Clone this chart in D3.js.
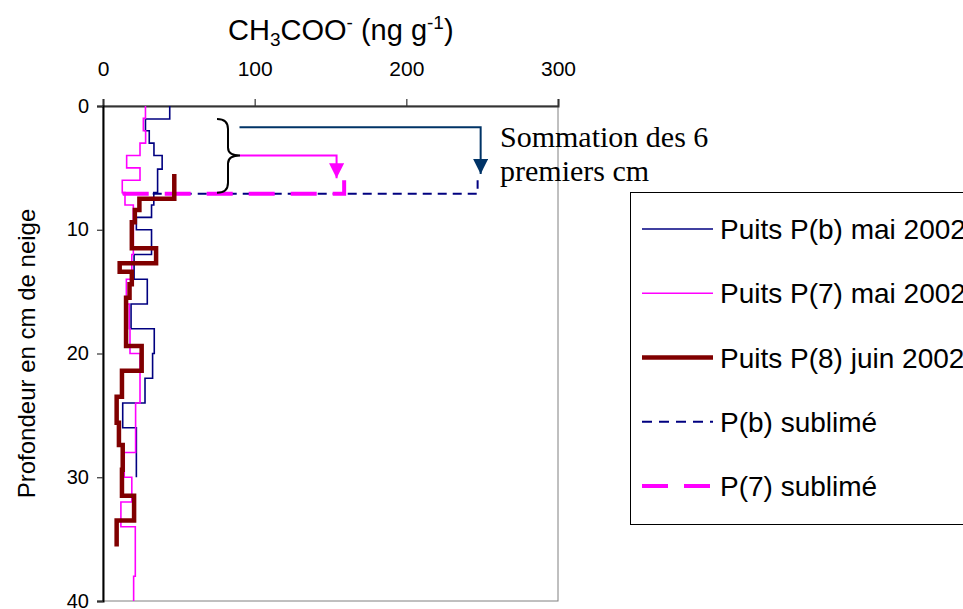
<!DOCTYPE html>
<html><head><meta charset="utf-8">
<script src="https://cdn.jsdelivr.net/npm/d3@7"></script>
<style>body{margin:0;background:#fff}svg{display:block}</style>
</head><body>
<svg id="c" width="963" height="609" font-family="Liberation Sans, Arial, sans-serif"></svg>
<script>
// ---- data ----
const xTicks = [0, 100, 200, 300];
const yTicks = [0, 10, 20, 30, 40];

// P(b) mai 2002 : depth boundaries (cm) and concentration per layer (ng/g)
const pbDepth = [0, 1.05, 2, 3, 4, 5.1, 7, 8, 9, 10, 12, 14, 16, 18, 20, 22, 24, 26, 30];
const pbValue = [44, 28, 30.5, 33.6, 39, 36, 33.5, 32, 22, 32, 20.5, 29.2, 18.5, 33.8, 32.7, 27.7, 13, 22];

// P(7) mai 2002
const p7Depth = [0, 1, 2, 3, 4, 5, 6, 7, 8, 12, 14, 16, 18, 20, 24, 28, 30, 32, 34, 38, 40];
const p7Value = [28, 26.6, 28.1, 24.4, 15.6, 24.4, 12.7, 14.5, 20, 19, 15.4, 17.3, 17.8, 24.4, 21.5, 14, 19, 11.8, 21.3, 20.2];

// P(8) juin 2002
const p8Depth = [5.5, 7.5, 8.4, 9.4, 11.5, 12.7, 13.4, 14.4, 15.5, 19.4, 21.4, 23.5, 25.6, 27.4, 29.4, 31.5, 33.5, 35.6];
const p8Value = [47, 24, 21, 19, 35, 11, 19, 17.5, 15.2, 25.5, 12.5, 9, 10.5, 13, 12.5, 20.5, 9];

// sublimed (sum of first 6 cm)
const pbSubX = [13, 247, 247];
const pbSubY = [7.1, 7.1, 6.0];
const p7SubX = [13, 159, 159];
const p7SubY = [7.1, 7.1, 6.0];

// annotation arrows (value, depth)
const arrowB = {x: [90, 249, 249], y: [1.72, 1.72, 5.5]};
const arrow7 = {x: [90, 154, 154], y: [4.0, 4.0, 5.84]};

const legendLabels = ["Puits P(b) mai 2002", "Puits P(7) mai 2002", "Puits P(8) juin 2002", "P(b) sublimé", "P(7) sublimé"];

// ---- chart ----
const SANS = "Liberation Sans, Arial, sans-serif";
const svg = d3.select("#c");
const x = d3.scaleLinear().domain([0, 300]).range([103, 558]);
const y = d3.scaleLinear().domain([0, 40]).range([106, 601]);

// plot frame
svg.append("rect").attr("x", x(0)).attr("y", y(0)).attr("width", x(300) - x(0)).attr("height", y(40) - y(0))
  .attr("fill", "none").attr("stroke", "#808080").attr("stroke-width", 1);

// axes
const xa = svg.append("g").attr("transform", `translate(0,${y(0)})`)
  .call(d3.axisTop(x).tickValues(xTicks).tickSize(7).tickFormat(d3.format("d")));
xa.select(".domain").attr("stroke", "#333").attr("stroke-width", 2);
xa.selectAll(".tick line").attr("stroke", "#333").attr("stroke-width", 1.2);
xa.selectAll(".tick text").style("font-size", "21px").style("font-family", SANS).attr("fill", "#000")
  .attr("y", -37).attr("dy", "0.35em");

const ya = svg.append("g").attr("transform", `translate(${x(0)},0)`)
  .call(d3.axisLeft(y).tickValues(yTicks).tickSize(6).tickFormat(d3.format("d")));
ya.select(".domain").attr("stroke", "#000").attr("stroke-width", 2);
ya.selectAll(".tick line").attr("stroke", "#333").attr("stroke-width", 1.2);
ya.selectAll(".tick text").style("font-size", "20px").style("font-family", SANS).attr("fill", "#000")
  .attr("x", -14).attr("dy", "0.3em");

// step profiles
function stepPoints(depth, value) {
  const pts = value.map((v, i) => [v, depth[i]]);
  pts.push([value[value.length - 1], depth[depth.length - 1]]);
  return pts;
}
const stepLine = d3.line().x(d => x(d[0])).y(d => y(d[1])).curve(d3.curveStepBefore);
const polyLine = d3.line().x(d => x(d[0])).y(d => y(d[1]));

// sublimed dashed lines
svg.append("path").datum(pbSubX.map((v, i) => [v, pbSubY[i]])).attr("d", polyLine)
  .attr("fill", "none").attr("stroke", "#000080").attr("stroke-width", 2).attr("stroke-dasharray", "9,6");
svg.append("path").datum(p7SubX.map((v, i) => [v, p7SubY[i]])).attr("d", polyLine)
  .attr("fill", "none").attr("stroke", "#FF00FF").attr("stroke-width", 4).attr("stroke-dasharray", "26,16");

svg.append("path").datum(stepPoints(pbDepth, pbValue)).attr("d", stepLine)
  .attr("fill", "none").attr("stroke", "#000080").attr("stroke-width", 1.6);
svg.append("path").datum(stepPoints(p7Depth, p7Value)).attr("d", stepLine)
  .attr("fill", "none").attr("stroke", "#FF00FF").attr("stroke-width", 1.6);
svg.append("path").datum(stepPoints(p8Depth, p8Value)).attr("d", stepLine)
  .attr("fill", "none").attr("stroke", "#800000").attr("stroke-width", 4.5);

// arrows
const defs = svg.append("defs");
function marker(id, col) {
  defs.append("marker").attr("id", id).attr("viewBox", "0 0 10 10").attr("refX", 10).attr("refY", 5)
    .attr("markerWidth", 15).attr("markerHeight", 15).attr("markerUnits", "userSpaceOnUse").attr("orient", "auto")
    .append("path").attr("d", "M0,0 L10,5 L0,10 Z").attr("fill", col);
}
marker("ab", "#003366");
marker("a7", "#FF00FF");
svg.append("path").datum(arrowB.x.map((v, i) => [v, arrowB.y[i]])).attr("d", polyLine)
  .attr("fill", "none").attr("stroke", "#003366").attr("stroke-width", 2).attr("marker-end", "url(#ab)");
svg.append("path").datum(arrow7.x.map((v, i) => [v, arrow7.y[i]])).attr("d", polyLine)
  .attr("fill", "none").attr("stroke", "#FF00FF").attr("stroke-width", 2).attr("marker-end", "url(#a7)");

// curly brace
const bx0 = 217, bx1 = 228, bx2 = 240;
const bt = y(1.05), bm = y(4.0), bb = y(7.0);
svg.append("path")
  .attr("d", `M${bx0},${bt} Q${bx1},${bt} ${bx1},${bt + 10} L${bx1},${bm - 8} Q${bx1},${bm} ${bx2},${bm} Q${bx1},${bm} ${bx1},${bm + 8} L${bx1},${bb - 10} Q${bx1},${bb} ${bx0},${bb}`)
  .attr("fill", "none").attr("stroke", "#000").attr("stroke-width", 2);

// annotation text
const ann = svg.append("text").style("font-family", "'Liberation Serif', 'Times New Roman', serif").style("font-size", "30px").attr("fill", "#000");
ann.append("tspan").attr("x", 500).attr("y", 147).text("Sommation des 6");
ann.append("tspan").attr("x", 500).attr("y", 181).text("premiers cm");

// title
const t = svg.append("text").attr("x", 228).attr("y", 40).style("font-size", "29px").style("font-family", SANS).attr("fill", "#000");
t.append("tspan").text("CH");
t.append("tspan").style("font-size", "19px").attr("dy", 6).text("3");
t.append("tspan").attr("dy", -6).text("COO");
t.append("tspan").style("font-size", "19px").attr("dy", -11).text("-");
t.append("tspan").attr("dy", 11).text(" (ng g");
t.append("tspan").style("font-size", "19px").attr("dy", -11).text("-1");
t.append("tspan").attr("dy", 11).text(")");

// y label
svg.append("text").attr("transform", `translate(35,${(y(0) + y(40)) / 2}) rotate(-90)`)
  .attr("text-anchor", "middle").style("font-size", "24px").style("font-family", SANS).attr("fill", "#000").text("Profondeur en cm de neige");

// legend
const lg = svg.append("g");
lg.append("rect").attr("x", 630.5).attr("y", 192.5).attr("width", 400).attr("height", 332)
  .attr("fill", "#fff").attr("stroke", "#000").attr("stroke-width", 1);
const lStyles = [
  {c: "#000080", w: 1.6, d: null},
  {c: "#FF00FF", w: 1.6, d: null},
  {c: "#800000", w: 4.5, d: null},
  {c: "#000080", w: 2, d: "10,7"},
  {c: "#FF00FF", w: 4, d: "26,16"}
];
const ly = d3.scalePoint().domain(legendLabels).range([229, 486]);
legendLabels.forEach((lab, i) => {
  const s = lStyles[i];
  const l = lg.append("line").attr("x1", 642).attr("x2", 713).attr("y1", ly(lab)).attr("y2", ly(lab))
    .attr("stroke", s.c).attr("stroke-width", s.w);
  if (s.d) l.attr("stroke-dasharray", s.d);
  lg.append("text").attr("x", 720).attr("y", ly(lab)).attr("dy", "0.36em").style("font-size", "28px")
    .style("font-family", SANS).attr("fill", "#000").text(lab);
});
</script>
</body></html>
